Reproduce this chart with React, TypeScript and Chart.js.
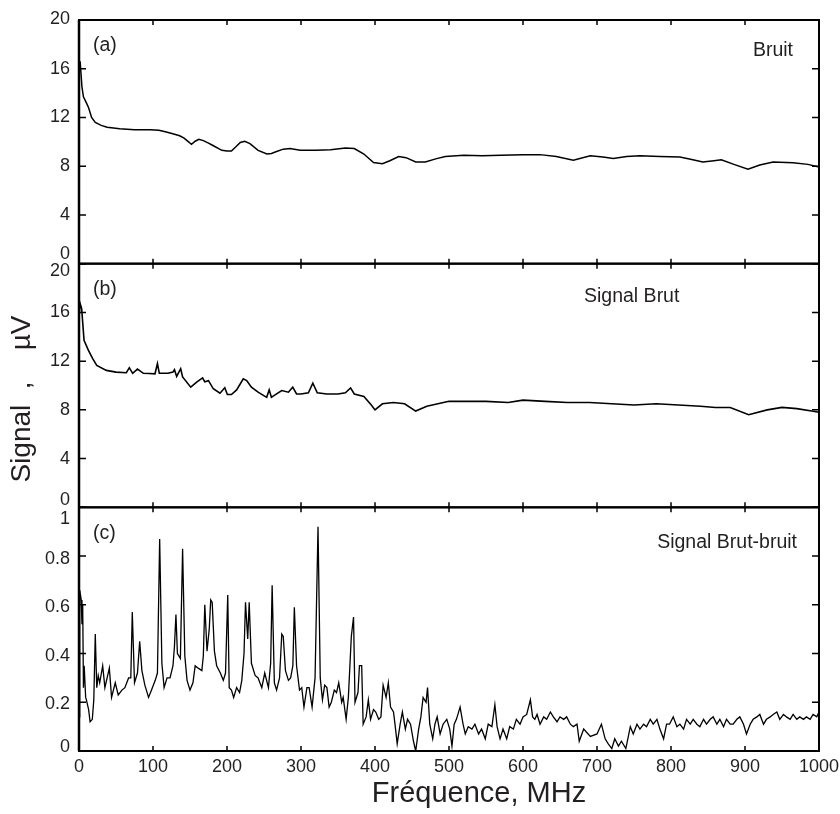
import React, { useEffect, useRef } from 'react';
import { Chart, registerables } from 'chart.js';

Chart.register(...registerables);

// ---- axis ticks ----
const xTickValues = [0, 100, 200, 300, 400, 500, 600, 700, 800, 900, 1000];
const xTickLabels = ['0', '100', '200', '300', '400', '500', '600', '700', '800', '900', '1000'];
const signalTicks = [0, 4, 8, 12, 16, 20];
const signalTickLabels = ['0', '4', '8', '12', '16', '20'];
const diffTicks = [0, 0.2, 0.4, 0.6, 0.8, 1];
const diffTickLabels = ['0', '0.2', '0.4', '0.6', '0.8', '1'];

// ---- texts ----
const panelLetters = ['(a)', '(b)', '(c)'];
const panelNames = ['Bruit', 'Signal Brut', 'Signal Brut-bruit'];
const xTitle = 'Fréquence, MHz';
const yTitle = 'Signal  ,    µV';

// ---- (a) Bruit ----
const bruitFreq = [0, 1.5, 4, 6, 10, 13, 17, 22, 30, 38, 55, 75, 96, 108, 118, 128, 136, 142, 146, 152, 157, 162, 168, 175, 181, 193, 200, 206, 212, 218, 224, 231, 242, 254, 260, 267, 276, 285, 299, 320, 340, 360, 372, 385, 398, 410, 420, 432, 442, 455, 468, 482, 495, 520, 545, 570, 600, 623, 645, 668, 691, 708, 722, 740, 758, 785, 812, 828, 843, 858, 868, 885, 904, 920, 938, 965, 985, 1000];
const bruitValues = [15.8, 16.6, 14.5, 13.7, 13.2, 12.8, 12.0, 11.6, 11.35, 11.2, 11.08, 11.0, 11.0, 10.95, 10.8, 10.65, 10.5, 10.3, 10.1, 9.8, 10.05, 10.2, 10.1, 9.9, 9.7, 9.3, 9.25, 9.25, 9.6, 9.95, 10.05, 9.85, 9.3, 9.0, 9.05, 9.2, 9.4, 9.45, 9.3, 9.3, 9.35, 9.5, 9.45, 9.0, 8.3, 8.2, 8.45, 8.8, 8.7, 8.35, 8.35, 8.6, 8.8, 8.9, 8.85, 8.9, 8.95, 8.95, 8.8, 8.5, 8.86, 8.75, 8.64, 8.8, 8.86, 8.8, 8.75, 8.55, 8.35, 8.45, 8.53, 8.15, 7.75, 8.1, 8.34, 8.29, 8.15, 7.93];

// ---- (b) Signal Brut ----
const brutFreq = [0, 1.4, 3.6, 6.8, 12.6, 18.5, 24, 37, 50, 64, 68, 72.5, 79, 87, 95, 102.7, 106, 108.5, 120, 127, 129, 132, 137.4, 140, 151, 159, 167, 170, 175, 181.5, 190.5, 197, 200.5, 206, 213, 222, 226.6, 233, 242, 253.6, 257, 260, 267, 274, 283, 288.8, 294, 300, 310, 316, 322, 335, 350, 360, 367, 372, 385, 395, 400, 410, 425, 440, 455, 470, 485, 500, 520, 550, 580, 600, 630, 660, 690, 720, 750, 780, 810, 840, 860, 880, 905, 930, 950, 970, 990, 1000];
const brutValues = [15.5, 16.75, 16.3, 13.7, 12.9, 12.2, 11.65, 11.24, 11.1, 11.05, 11.46, 11.0, 11.35, 11.0, 10.98, 10.96, 11.8, 11.0, 11.0, 11.1, 11.3, 10.74, 11.38, 10.7, 9.86, 10.27, 10.63, 10.3, 10.4, 9.73, 9.37, 9.81, 9.26, 9.26, 9.64, 10.55, 10.41, 9.86, 9.45, 9.03, 9.64, 9.03, 9.31, 9.59, 9.45, 9.86, 9.31, 9.3, 9.4, 10.2, 9.4, 9.3, 9.3, 9.4, 9.8, 9.3, 9.1, 8.4, 8.0, 8.5, 8.6, 8.5, 7.9, 8.3, 8.5, 8.7, 8.7, 8.7, 8.6, 8.8, 8.7, 8.6, 8.6, 8.5, 8.4, 8.5, 8.4, 8.3, 8.2, 8.2, 7.6, 8.0, 8.2, 8.1, 7.9, 7.8];

// ---- (c) Signal Brut-bruit ----
const diffFreq = [0, 1, 3, 4, 5, 6, 7, 9, 10, 13, 15, 18, 20, 22, 24, 26, 28, 32, 35, 38, 41, 44, 49, 53, 58, 62, 67, 70, 72, 75, 79, 82, 85, 89, 94, 98, 103, 106, 109, 112, 115, 119, 123, 127, 129, 131, 133, 137, 140, 143, 146, 150, 154, 157, 161, 166, 168, 170, 173, 176, 178, 180, 183, 186, 191, 195, 198, 201, 203, 206, 209, 213, 217, 220, 223, 225, 228, 230, 233, 238, 242, 247, 251, 256, 259, 261, 264, 267, 271, 274, 276, 279, 283, 286, 289, 291, 294, 298, 301, 304, 308, 311, 315, 319, 323, 326, 329, 332, 335, 338, 341, 345, 348, 351, 355, 357, 361, 364, 368, 371, 373, 377, 379, 382, 384, 388, 391, 394, 398, 401, 405, 408, 411, 415, 418, 421, 425, 427, 430, 434, 437, 441, 444, 448, 452, 455, 459, 462, 465, 469, 471, 474, 478, 481, 484, 488, 492, 497, 501, 504, 507, 510, 515, 519, 522, 526, 531, 535, 540, 544, 549, 553, 558, 562, 565, 569, 573, 578, 582, 587, 591, 596, 600, 605, 610, 613, 616, 619, 623, 628, 632, 637, 641, 646, 650, 655, 659, 664, 668, 673, 676, 682, 691, 700, 706, 711, 715, 720, 724, 729, 733, 739, 745, 749, 754, 758, 763, 767, 772, 776, 781, 785, 790, 794, 798, 803, 808, 812, 817, 821, 826, 830, 835, 839, 844, 848, 853, 857, 862, 866, 871, 875, 880, 884, 889, 893, 898, 902, 907, 911, 916, 920, 925, 929, 934, 938, 943, 947, 952, 956, 961, 965, 970, 974, 979, 983, 988, 992, 997, 1000];
const diffValues = [0.14, 0.66, 0.62, 0.52, 0.6, 0.26, 0.35, 0.22, 0.21, 0.17, 0.12, 0.13, 0.21, 0.48, 0.26, 0.31, 0.28, 0.35, 0.26, 0.3, 0.34, 0.22, 0.28, 0.23, 0.25, 0.26, 0.3, 0.3, 0.57, 0.28, 0.32, 0.45, 0.33, 0.27, 0.22, 0.25, 0.29, 0.32, 0.87, 0.36, 0.26, 0.3, 0.3, 0.35, 0.43, 0.56, 0.4, 0.38, 0.83, 0.39, 0.29, 0.25, 0.28, 0.35, 0.34, 0.33, 0.39, 0.6, 0.41, 0.5, 0.62, 0.61, 0.41, 0.35, 0.32, 0.29, 0.32, 0.64, 0.26, 0.25, 0.22, 0.26, 0.24, 0.29, 0.4, 0.61, 0.46, 0.61, 0.36, 0.31, 0.3, 0.26, 0.32, 0.26, 0.36, 0.68, 0.28, 0.25, 0.3, 0.48, 0.47, 0.33, 0.29, 0.3, 0.35, 0.59, 0.35, 0.25, 0.26, 0.18, 0.26, 0.26, 0.18, 0.3, 0.92, 0.3, 0.21, 0.27, 0.26, 0.18, 0.2, 0.25, 0.24, 0.28, 0.2, 0.22, 0.13, 0.22, 0.47, 0.55, 0.2, 0.24, 0.35, 0.35, 0.11, 0.14, 0.21, 0.13, 0.17, 0.16, 0.13, 0.14, 0.27, 0.22, 0.28, 0.18, 0.16, 0.11, 0.03, 0.11, 0.16, 0.09, 0.13, 0.11, 0.04, 0.0, 0.09, 0.14, 0.22, 0.2, 0.26, 0.11, 0.05, 0.11, 0.14, 0.07, 0.11, 0.13, 0.09, 0.02, 0.11, 0.13, 0.18, 0.11, 0.07, 0.1, 0.09, 0.11, 0.07, 0.09, 0.05, 0.11, 0.1, 0.19, 0.1, 0.05, 0.09, 0.05, 0.1, 0.09, 0.13, 0.11, 0.14, 0.15, 0.21, 0.14, 0.13, 0.15, 0.11, 0.14, 0.13, 0.16, 0.14, 0.12, 0.14, 0.13, 0.14, 0.11, 0.1, 0.11, 0.04, 0.09, 0.06, 0.07, 0.11, 0.05, 0.03, 0.01, 0.05, 0.02, 0.04, 0.01, 0.1, 0.07, 0.11, 0.09, 0.11, 0.1, 0.13, 0.11, 0.13, 0.09, 0.05, 0.11, 0.11, 0.14, 0.1, 0.11, 0.09, 0.13, 0.11, 0.13, 0.11, 0.1, 0.13, 0.11, 0.13, 0.14, 0.11, 0.13, 0.1, 0.13, 0.11, 0.11, 0.13, 0.14, 0.11, 0.07, 0.11, 0.13, 0.14, 0.15, 0.11, 0.13, 0.14, 0.15, 0.16, 0.13, 0.15, 0.14, 0.13, 0.15, 0.13, 0.14, 0.13, 0.14, 0.13, 0.15, 0.14, 0.16];

const FONT = "'Liberation Sans', Arial, Helvetica, sans-serif";
const TEXT = '#231f20';

const toXY = (xs: number[], ys: number[]) => xs.map((x, i) => ({ x, y: ys[i] }));

const panels = [
  { id: 'yA', ticks: signalTicks, labels: signalTickLabels, letter: panelLetters[0], name: panelNames[0], shifts: [-10, 0, 0, 0, 0, -1], nameX: 793, nameDy: 31, nameAlign: 'right' },
  { id: 'yB', ticks: signalTicks, labels: signalTickLabels, letter: panelLetters[1], name: panelNames[1], shifts: [-7, 0, 0, 0, 0, 7], nameX: 584, nameDy: 33, nameAlign: 'left' },
  { id: 'yC', ticks: diffTicks, labels: diffTickLabels, letter: panelLetters[2], name: panelNames[2], shifts: [-4, 2, 2, 2, 3, 12], nameX: 797, nameDy: 35, nameAlign: 'right' },
];

const framePlugin = {
  id: 'frame',
  afterDraw(chart: any) {
    const ctx = chart.ctx;
    const xs = chart.scales.x;
    const left = chart.chartArea.left;
    const right = chart.chartArea.right;
    ctx.save();
    ctx.strokeStyle = '#000';
    ctx.fillStyle = TEXT;
    panels.forEach((p) => {
      const ys = chart.scales[p.id];
      const top = ys.top;
      const bottom = ys.bottom;
      // ticks
      ctx.lineWidth = 1.5;
      ctx.beginPath();
      p.ticks.forEach((t: number) => {
        const py = ys.getPixelForValue(t);
        ctx.moveTo(left, py);
        ctx.lineTo(left + 7, py);
        ctx.moveTo(right, py);
        ctx.lineTo(right - 7, py);
      });
      xTickValues.forEach((t) => {
        const px = xs.getPixelForValue(t);
        ctx.moveTo(px, top);
        ctx.lineTo(px, top + 5);
        ctx.moveTo(px, bottom);
        ctx.lineTo(px, bottom - 5);
      });
      ctx.stroke();
      // frame
      ctx.lineWidth = 2;
      ctx.strokeRect(left, top, right - left, bottom - top);
      // tick labels
      ctx.font = `18px ${FONT}`;
      ctx.textAlign = 'right';
      ctx.textBaseline = 'middle';
      p.ticks.forEach((t: number, i: number) => {
        ctx.fillText(p.labels[i], 70, ys.getPixelForValue(t) + p.shifts[i]);
      });
      // panel texts
      ctx.font = `19.5px ${FONT}`;
      ctx.textAlign = 'left';
      ctx.fillText(p.letter, 93, top + 26);
      ctx.textAlign = p.nameAlign;
      ctx.fillText(p.name, p.nameX, top + p.nameDy);
    });
    // left axis thicker
    ctx.lineWidth = 2.5;
    ctx.beginPath();
    ctx.moveTo(left, chart.chartArea.top);
    ctx.lineTo(left, chart.chartArea.bottom);
    ctx.stroke();
    // axis titles
    ctx.font = `29px ${FONT}`;
    ctx.textAlign = 'center';
    ctx.textBaseline = 'middle';
    ctx.fillText(xTitle, 479, 794);
    ctx.save();
    ctx.translate(22, 399);
    ctx.rotate(-Math.PI / 2);
    ctx.font = `28px ${FONT}`;
    ctx.fillText(yTitle, 0, 0);
    ctx.restore();
    ctx.restore();
  },
};

const hiddenY = (min: number, max: number) => ({
  type: 'linear',
  min,
  max,
  position: 'left',
  stack: 'panels',
  stackWeight: 1,
  ticks: { display: false },
  grid: { display: false, drawTicks: false },
  border: { display: false },
  afterFit: (s: any) => { s.width = 79; },
});

export default function App() {
  const ref = useRef<HTMLCanvasElement | null>(null);
  useEffect(() => {
    document.body.style.margin = '0';
    const canvas = ref.current;
    if (!canvas) return;
    const line = (data: any, axis: string, w: number) => ({
      data,
      yAxisID: axis,
      xAxisID: 'x',
      borderColor: '#000',
      backgroundColor: '#000',
      borderWidth: w,
      pointRadius: 0,
      tension: 0,
      fill: false,
    });
    const chart = new Chart(canvas, {
      type: 'line',
      data: {
        datasets: [
          line(toXY(bruitFreq, bruitValues), 'yA', 1.5),
          line(toXY(brutFreq, brutValues), 'yB', 1.6),
          line(toXY(diffFreq, diffValues), 'yC', 1.3),
        ],
      },
      options: {
        responsive: false,
        animation: false,
        devicePixelRatio: 1,
        layout: { padding: { top: 20, right: 21, left: 0, bottom: 0 } },
        plugins: { legend: { display: false }, tooltip: { enabled: false } },
        scales: {
          x: {
            type: 'linear',
            min: 0,
            max: 1000,
            position: 'bottom',
            afterBuildTicks: (s: any) => { s.ticks = xTickValues.map((v) => ({ value: v })); },
            ticks: {
              font: { family: FONT, size: 18 },
              color: TEXT,
              padding: 5,
              maxRotation: 0,
              autoSkip: false,
              callback: (_v: any, i: number) => xTickLabels[i],
            },
            grid: { display: false, drawTicks: false },
            border: { display: false },
            afterFit: (s: any) => {
              s.height = 63;
              s.paddingLeft = 0;
              s.paddingRight = 0;
            },
          },
          yC: hiddenY(0, 1),
          yB: hiddenY(0, 20),
          yA: hiddenY(0, 20),
        } as any,
      },
      plugins: [framePlugin],
    } as any);
    return () => chart.destroy();
  }, []);
  return (
    <div style={{ width: 840, height: 814 }}>
      <canvas ref={ref} width={840} height={814} style={{ display: 'block' }} />
    </div>
  );
}
